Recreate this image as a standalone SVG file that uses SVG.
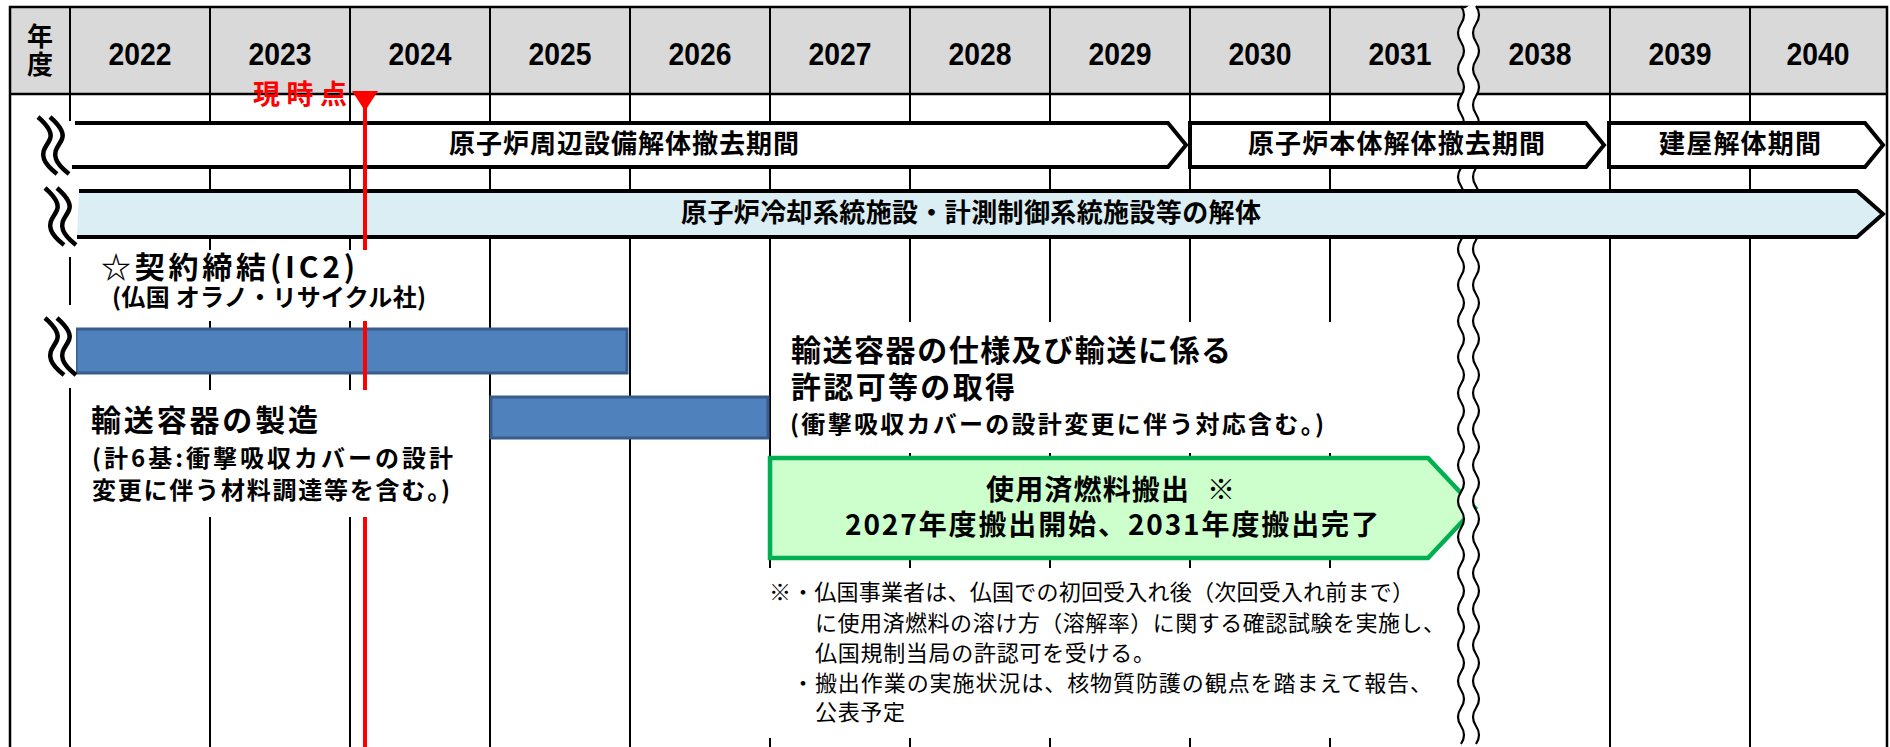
<svg xmlns="http://www.w3.org/2000/svg" width="1890" height="747" viewBox="0 0 1890 747">
<defs>
<style>
.grid{stroke:#000;stroke-width:2;fill:none}
.frame{stroke:#000;stroke-width:2.5;fill:none}
.hdr{fill:#D9D9D9}
.yr{font-family:"Liberation Sans",Arial,sans-serif;font-weight:bold;font-size:32px;text-anchor:middle;fill:#000}
.jp{font-family:"Noto Sans CJK JP","Noto Sans CJK SC",sans-serif;fill:#000}
.b{font-weight:bold}
.red{fill:#FF0000}
.mask{fill:#fff}
.bar{fill:#fff;stroke:#000;stroke-width:4}
.lb{fill:#DAEEF3;stroke:#000;stroke-width:4}
.blue{fill:#4F81BD;stroke:#385D8A;stroke-width:3}
.green{fill:#CCFFCC;stroke:#00B050;stroke-width:4.5}
.wvw{fill:none;stroke:#fff;stroke-width:14}
.wvb{fill:none;stroke:#000;stroke-width:2.2}
.brkw{fill:none;stroke:#fff;stroke-width:14}
.brkb{fill:none;stroke:#000;stroke-width:4.5}
.now{stroke:#FF0000;stroke-width:4}
</style>
<path id="wave" d="M0,6q6,9 0,18t0,18t0,18t0,18t0,18t0,18t0,18t0,18t0,18t0,18t0,18t0,18t0,18t0,18t0,18t0,18t0,18t0,18t0,18t0,18t0,18t0,18t0,18t0,18t0,18t0,18t0,18t0,18t0,18t0,18t0,18t0,18t0,18t0,18t0,18t0,18t0,18t0,18t0,18t0,18t0,18"/>
<path id="brkA" d="M0,0 C8,7 15,15 12,22 C9,29 3,33 6,42 C8,48 14,53 19,57"/>
<g id="brk">
<use href="#brkA" x="6" class="brkw"/>
<use href="#brkA" class="brkb"/>
<use href="#brkA" x="12" class="brkb"/>
</g>
</defs>

<g id="table">
<rect class="hdr" x="10" y="7" width="1877" height="87"/>
<path class="grid" d="M70,7V747M210,7V747M350,7V747M490,7V747M630,7V747M770,7V747M910,7V747M1050,7V747M1190,7V747M1330,7V747M1610,7V747M1750,7V747"/>
<path class="frame" d="M10,747V7H1887V747M10,94H1887"/>
<text class="jp b" x="40" y="46" font-size="26" text-anchor="middle">年</text>
<text class="jp b" x="40" y="74" font-size="26" text-anchor="middle">度</text>
<text class="yr" x="140" y="65" textLength="63" lengthAdjust="spacingAndGlyphs">2022</text>
<text class="yr" x="280" y="65" textLength="63" lengthAdjust="spacingAndGlyphs">2023</text>
<text class="yr" x="420" y="65" textLength="63" lengthAdjust="spacingAndGlyphs">2024</text>
<text class="yr" x="560" y="65" textLength="63" lengthAdjust="spacingAndGlyphs">2025</text>
<text class="yr" x="700" y="65" textLength="63" lengthAdjust="spacingAndGlyphs">2026</text>
<text class="yr" x="840" y="65" textLength="63" lengthAdjust="spacingAndGlyphs">2027</text>
<text class="yr" x="980" y="65" textLength="63" lengthAdjust="spacingAndGlyphs">2028</text>
<text class="yr" x="1120" y="65" textLength="63" lengthAdjust="spacingAndGlyphs">2029</text>
<text class="yr" x="1260" y="65" textLength="63" lengthAdjust="spacingAndGlyphs">2030</text>
<text class="yr" x="1400" y="65" textLength="63" lengthAdjust="spacingAndGlyphs">2031</text>
<text class="yr" x="1540" y="65" textLength="63" lengthAdjust="spacingAndGlyphs">2038</text>
<text class="yr" x="1680" y="65" textLength="63" lengthAdjust="spacingAndGlyphs">2039</text>
<text class="yr" x="1818" y="65" textLength="63" lengthAdjust="spacingAndGlyphs">2040</text>
</g>

<g id="fuel-transport">
<path class="green" d="M770,458H1428L1475,508L1428,558H770Z"/>
<text class="jp b" x="986" y="500" font-size="28" textLength="203">使用済燃料搬出</text>
<text class="jp b" x="1207" y="500" font-size="28">※</text>
<text class="jp b" x="845" y="535" font-size="28" textLength="534">2027年度搬出開始、2031年度搬出完了</text>
</g>

<g id="cask-bars">
<rect class="blue" x="76" y="329" width="551" height="44"/>
<rect class="blue" x="491" y="397" width="277" height="41"/>
</g>

<g id="time-break">
<use href="#wave" x="1468.5" class="wvw"/>
<use href="#wave" x="1461" class="wvb"/>
<use href="#wave" x="1476" class="wvb"/>
</g>

<g id="masks">
<rect class="mask" x="62" y="121" width="14" height="136"/>
<rect class="mask" x="62" y="305" width="14" height="83"/>
</g>

<g id="bar-peripheral">
<path class="bar" d="M75,123H1168L1186,145L1168,167H72"/>
<text class="jp b" x="449" y="153" font-size="26" textLength="350">原子炉周辺設備解体撤去期間</text>
</g>
<g id="bar-reactor-body">
<path class="bar" d="M1190,123H1586L1604,145L1586,167H1190Z"/>
<text class="jp b" x="1248" y="153" font-size="26" textLength="297">原子炉本体解体撤去期間</text>
</g>
<g id="bar-building">
<path class="bar" d="M1609,123H1865L1883,145L1865,167H1609Z"/>
<text class="jp b" x="1659" y="153" font-size="26" textLength="162">建屋解体期間</text>
</g>
<g id="bar-cooling">
<path class="lb" d="M79,191H1857L1883,214L1857,237H77"/>
<text class="jp b" x="681" y="222" font-size="26" textLength="580">原子炉冷却系統施設・計測制御系統施設等の解体</text>
</g>

<g id="break-marks">
<use href="#brk" x="38" y="117"/>
<use href="#brk" x="45" y="188"/>
<use href="#brk" x="45" y="318"/>
</g>

<g id="now-marker">
<line class="now" x1="365" y1="100" x2="365" y2="747"/>
<polygon class="red" points="352,91 378,91 365,111"/>
<text class="jp b red" x="253" y="104" font-size="27" textLength="94">現時点</text>
</g>

<g id="contract-note">
<rect class="mask" x="92" y="250" width="353" height="71"/>
<text class="jp b" x="101" y="278" font-size="30" textLength="254">☆契約締結(IC2)</text>
<text class="jp b" x="112" y="306" font-size="24" textLength="314">(仏国 オラノ・リサイクル社)</text>
</g>

<g id="cask-mfg-label">
<rect class="mask" x="84" y="390" width="398" height="127"/>
<text class="jp b" x="91" y="431" font-size="30" textLength="227">輸送容器の製造</text>
<text class="jp b" x="92" y="467" font-size="24" textLength="361">(計6基:衝撃吸収カバーの設計</text>
<text class="jp b" x="92" y="499" font-size="24" textLength="358">変更に伴う材料調達等を含む。)</text>
</g>

<g id="cask-permit-label">
<rect class="mask" x="778" y="322" width="662" height="131"/>
<text class="jp b" x="791" y="361" font-size="30" textLength="440">輸送容器の仕様及び輸送に係る</text>
<text class="jp b" x="791" y="398" font-size="30" textLength="224">許認可等の取得</text>
<text class="jp b" x="790" y="433" font-size="24" textLength="534">(衝撃吸収カバーの設計変更に伴う対応含む。)</text>
</g>

<g id="footnote">
<rect class="mask" x="765" y="568" width="683" height="170"/>
<text class="jp" x="769" y="600" font-size="22">※</text>
<text class="jp" x="792" y="600" font-size="22" textLength="622">・仏国事業者は、仏国での初回受入れ後（次回受入れ前まで）</text>
<text class="jp" x="815" y="631" font-size="22" textLength="630">に使用済燃料の溶け方（溶解率）に関する確認試験を実施し、</text>
<text class="jp" x="815" y="661" font-size="22" textLength="340">仏国規制当局の許認可を受ける。</text>
<text class="jp" x="792" y="691" font-size="22" textLength="640">・搬出作業の実施状況は、核物質防護の観点を踏まえて報告、</text>
<text class="jp" x="815" y="720" font-size="22" textLength="90">公表予定</text>
</g>
</svg>
